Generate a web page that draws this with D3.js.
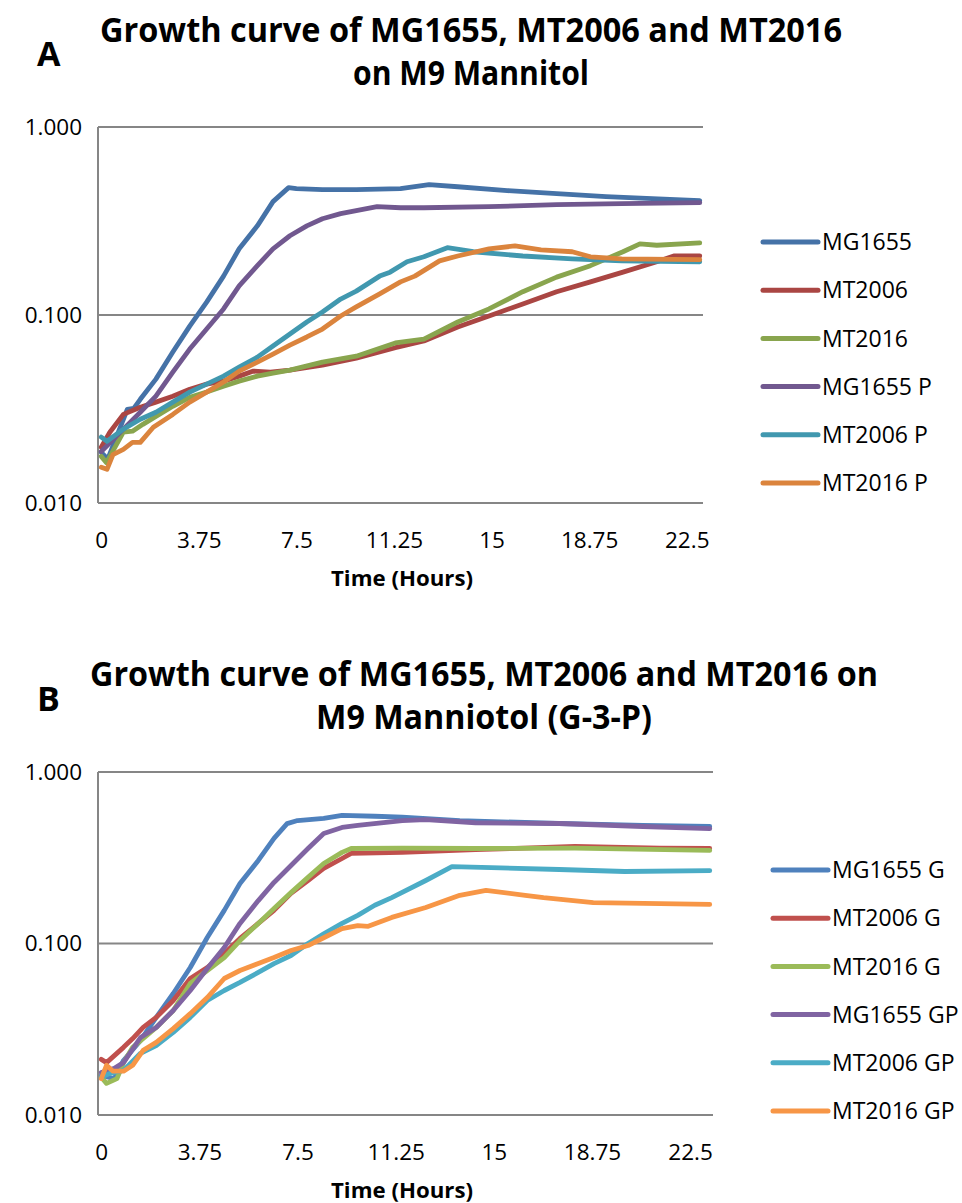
<!DOCTYPE html>
<html>
<head>
<meta charset="utf-8">
<script src="https://cdn.jsdelivr.net/npm/d3@7"></script>
<style>
  body { margin: 0; background: #fff; }
  svg { display: block; font-family: "Open Sans", sans-serif; }
</style>
</head>
<body>
<svg id="chart" width="962" height="1203"></svg>
<script>
// ---- data: [time (h), OD] pairs ----
var xTicks = [0, 3.75, 7.5, 11.25, 15, 18.75, 22.5];
var yTicks = [0.01, 0.1, 1];

var namesA = ["MG1655", "MT2006", "MT2016", "MG1655 P", "MT2006 P", "MT2016 P"];
var colorsA = ["#4572A7", "#AA4643", "#89A54E", "#71588F", "#4198AF", "#DB843D"];

var mg1655 = [[0,0.0186],[0.25,0.0171],[1,0.0315],[1.25,0.0319],[1.5,0.0356],[2.1,0.0456],[2.75,0.0635],[3.4,0.0873],[4.05,0.117],[4.7,0.161],[5.3,0.225],[6,0.298],[6.6,0.401],[7.2,0.476],[7.5,0.470],[8.5,0.464],[9.8,0.464],[11.5,0.470],[12.6,0.494],[13.7,0.481],[15.6,0.459],[17.5,0.442],[19.4,0.426],[21.4,0.415],[23,0.406]];
var mt2006 = [[0,0.0198],[0.33,0.0238],[0.85,0.0296],[1.5,0.0323],[2.1,0.0344],[2.75,0.037],[3.4,0.0403],[4.05,0.0429],[4.7,0.0445],[5.3,0.0473],[5.85,0.0503],[6.5,0.0497],[7.25,0.0509],[8.5,0.0541],[9.8,0.059],[11.3,0.067],[12.4,0.0727],[13.7,0.0863],[14.9,0.0988],[16.2,0.1145],[17.5,0.133],[18.8,0.150],[20.05,0.169],[21.35,0.192],[22,0.206],[23,0.206]];
var mt2016 = [[0,0.0177],[0.2,0.0164],[0.85,0.0238],[1.2,0.0241],[1.6,0.0262],[2.1,0.0289],[2.75,0.0327],[3.4,0.0365],[4.05,0.0389],[4.7,0.0418],[5.3,0.0445],[6,0.0473],[6.6,0.0491],[7.25,0.0509],[8.5,0.0561],[9.8,0.0604],[11.3,0.071],[12.4,0.0745],[13.7,0.0918],[14.9,0.1077],[16.2,0.133],[17.5,0.159],[18.8,0.183],[20.05,0.217],[20.7,0.239],[21.35,0.235],[23,0.242]];
var mg1655P = [[0,0.0188],[0.85,0.0247],[1.5,0.0304],[2.1,0.037],[2.75,0.0497],[3.4,0.0659],[4.05,0.0842],[4.7,0.1077],[5.3,0.143],[6,0.183],[6.6,0.225],[7.25,0.264],[7.9,0.298],[8.5,0.325],[9.2,0.346],[9.8,0.359],[10.6,0.377],[11.5,0.372],[12.4,0.372],[14.9,0.377],[17.5,0.386],[20,0.391],[23,0.396]];
var mt2006P = [[0,0.0224],[0.22,0.0213],[0.85,0.0247],[1.5,0.0279],[2.1,0.0304],[2.75,0.0344],[3.4,0.0389],[4.05,0.0429],[4.7,0.0473],[5.3,0.0528],[6,0.0597],[6.6,0.0684],[7.25,0.0793],[7.9,0.0918],[8.5,0.1037],[9.2,0.1216],[9.8,0.134],[10.7,0.161],[11.1,0.169],[11.75,0.192],[12.4,0.204],[13.3,0.228],[14.3,0.217],[16.2,0.206],[18.1,0.199],[20,0.194],[23,0.192]];
var mt2016P = [[0,0.0155],[0.22,0.0151],[0.45,0.0181],[0.85,0.0193],[1.2,0.021],[1.5,0.021],[2,0.0253],[2.75,0.0296],[3.4,0.0344],[4.05,0.0389],[4.7,0.044],[5.3,0.0503],[6,0.0561],[6.6,0.062],[7.25,0.0692],[7.9,0.0764],[8.5,0.0842],[9.2,0.0988],[9.8,0.1104],[10.7,0.1295],[11.5,0.15],[12.05,0.161],[13,0.194],[13.7,0.206],[14.9,0.225],[15.9,0.233],[16.9,0.222],[18.1,0.217],[18.8,0.204],[20,0.199],[23,0.197]];

var namesB = ["MG1655 G", "MT2006 G", "MT2016 G", "MG1655 GP", "MT2006 GP", "MT2016 GP"];
var colorsB = ["#4F81BD", "#C0504D", "#9BBB59", "#8064A2", "#4BACC6", "#F79646"];

var mg1655G = [[0,0.017],[0.5,0.0163],[0.85,0.0208],[1.5,0.0272],[2.1,0.0371],[2.75,0.0511],[3.4,0.0724],[4.05,0.1084],[4.7,0.156],[5.3,0.224],[6,0.305],[6.6,0.41],[7.1,0.50],[7.5,0.521],[8.5,0.536],[9.2,0.558],[10.45,0.552],[11.5,0.546],[13.7,0.521],[17.5,0.501],[20.7,0.488],[23.25,0.481]];
var mt2006G = [[0,0.0211],[0.2,0.0202],[0.85,0.0248],[1.2,0.0279],[1.6,0.0324],[2.1,0.0371],[2.75,0.0465],[3.4,0.0625],[4.05,0.0724],[4.7,0.0875],[5.3,0.107],[6,0.131],[6.6,0.156],[7.25,0.196],[7.9,0.233],[8.5,0.274],[9.2,0.313],[9.55,0.335],[11.5,0.34],[14.3,0.353],[18.1,0.368],[21.35,0.36],[23.25,0.358]];
var mt2016G = [[0,0.0166],[0.2,0.0153],[0.6,0.0163],[0.85,0.0202],[1.2,0.0248],[2.1,0.0324],[2.75,0.0407],[3.4,0.0585],[4.05,0.0696],[4.7,0.0828],[5.3,0.104],[6,0.131],[6.6,0.16],[7.25,0.198],[7.9,0.243],[8.5,0.293],[9.2,0.34],[9.55,0.358],[11.5,0.36],[14.3,0.358],[18.1,0.36],[23.25,0.349]];
var mg1655GP = [[0,0.0177],[0.5,0.0187],[0.85,0.0202],[1.5,0.0283],[2.1,0.0324],[2.75,0.0407],[3.4,0.0532],[4.05,0.0715],[4.7,0.0948],[5.3,0.131],[6,0.178],[6.6,0.227],[7.25,0.285],[7.9,0.358],[8.5,0.438],[9.2,0.475],[9.8,0.488],[11.5,0.521],[12.4,0.528],[14.3,0.506],[17.5,0.501],[20.7,0.481],[23.25,0.468]];
var mt2006GP = [[0,0.0166],[0.33,0.0175],[0.85,0.0182],[1.5,0.0229],[2.1,0.0254],[2.75,0.0303],[3.4,0.0371],[4.05,0.0465],[4.7,0.0532],[5.3,0.0593],[6,0.0678],[6.6,0.0764],[7.25,0.0851],[7.9,0.1],[8.5,0.114],[9.2,0.131],[9.8,0.146],[10.45,0.167],[11.1,0.185],[12.4,0.233],[13.4,0.281],[14.9,0.277],[17.5,0.27],[20,0.263],[23.25,0.266]];
var mt2016GP = [[0,0.0163],[0.2,0.0195],[0.45,0.018],[0.85,0.018],[1.2,0.0195],[1.6,0.0238],[2.1,0.0265],[2.75,0.0319],[3.4,0.039],[4.05,0.0484],[4.7,0.0625],[5.3,0.0696],[6,0.0764],[6.6,0.0828],[7.25,0.091],[7.9,0.0973],[8.5,0.108],[9.2,0.122],[9.8,0.127],[10.2,0.126],[11.1,0.142],[12.4,0.162],[13.7,0.191],[14.7,0.204],[16.2,0.191],[16.9,0.185],[18.8,0.173],[21.35,0.171],[23.25,0.169]];

var svg = d3.select("#chart");

function drawChart(cfg) {
  var g = svg.append("g");

  var x = d3.scaleLinear().domain([-0.125, cfg.tEnd + 0.125]).range([98, cfg.right]);
  var y = d3.scaleLog().domain([0.01, 1]).range([cfg.bottom, cfg.top]);

  // panel letter and title
  g.append("text").attr("x", 37).attr("y", cfg.top - 61)
    .attr("font-size", 34).attr("font-weight", "bold").text(cfg.letter);
  cfg.title.forEach(function (t, i) {
    g.append("text").attr("x", cfg.titleX).attr("y", cfg.titleY + i * 43)
      .attr("text-anchor", "middle").attr("font-size", 34).attr("font-weight", "bold")
      .attr("textLength", cfg.titleW[i]).attr("lengthAdjust", "spacingAndGlyphs")
      .text(t);
  });

  // gridlines
  g.selectAll(".grid").data(yTicks).enter().append("line")
    .attr("x1", 98).attr("x2", cfg.right)
    .attr("y1", function (d) { return y(d); })
    .attr("y2", function (d) { return y(d); })
    .attr("stroke", "#868686").attr("stroke-width", 2);
  g.append("line").attr("x1", 98).attr("x2", 98)
    .attr("y1", cfg.top).attr("y2", cfg.bottom)
    .attr("stroke", "#868686").attr("stroke-width", 2);

  // axes
  var yAxis = g.append("g").attr("transform", "translate(98,0)")
    .call(d3.axisLeft(y).tickValues(yTicks).tickSize(0).tickPadding(16)
      .tickFormat(d3.format(".3f")));
  var xAxis = g.append("g").attr("transform", "translate(0," + cfg.bottom + ")")
    .call(d3.axisBottom(x).tickValues(xTicks).tickSize(0).tickPadding(29)
      .tickFormat(function (d) { return String(d); }));
  [yAxis, xAxis].forEach(function (a) {
    a.select(".domain").remove();
    a.selectAll("text").attr("font-size", 22.5).attr("fill", "#000")
      .attr("font-family", "'Open Sans', sans-serif");
  });

  g.append("text").attr("x", 402).attr("y", cfg.bottom + 83)
    .attr("text-anchor", "middle").attr("font-size", 21).attr("font-weight", "bold")
    .attr("textLength", 142).attr("lengthAdjust", "spacingAndGlyphs")
    .text("Time (Hours)");

  // lines
  var line = d3.line()
    .x(function (d) { return x(d[0]); })
    .y(function (d) { return y(d[1]); });

  cfg.series.forEach(function (s, i) {
    g.append("path").datum(s)
      .attr("fill", "none").attr("stroke", cfg.colors[i])
      .attr("stroke-width", 4.8).attr("stroke-linejoin", "round")
      .attr("stroke-linecap", "round")
      .attr("d", line);
  });

  // legend
  var leg = g.selectAll(".leg").data(cfg.names).enter().append("g")
    .attr("transform", function (d, i) {
      return "translate(" + cfg.legX + "," + (cfg.legY + i * 48.2) + ")";
    });
  leg.append("line").attr("x1", 0).attr("x2", 55)
    .attr("stroke", function (d, i) { return cfg.colors[i]; })
    .attr("stroke-width", 5).attr("stroke-linecap", "round");
  leg.append("text").attr("x", 59).attr("dy", "0.36em")
    .attr("font-size", 23).text(function (d) { return d; });
}

drawChart({
  letter: "A",
  title: ["Growth curve of MG1655, MT2006 and MT2016", "on M9 Mannitol"],
  titleX: 471, titleY: 42, titleW: [742, 236],
  top: 127, bottom: 503, right: 703, tEnd: 23,
  series: [mg1655, mt2006, mt2016, mg1655P, mt2006P, mt2016P],
  names: namesA, colors: colorsA,
  legX: 763, legY: 242
});

drawChart({
  letter: "B",
  title: ["Growth curve of MG1655, MT2006 and MT2016 on", "M9 Manniotol (G-3-P)"],
  titleX: 484, titleY: 686, titleW: [788, 336],
  top: 772, bottom: 1115, right: 713, tEnd: 23.25,
  series: [mg1655G, mt2006G, mt2016G, mg1655GP, mt2006GP, mt2016GP],
  names: namesB, colors: colorsB,
  legX: 773, legY: 870
});
</script>
</body>
</html>
